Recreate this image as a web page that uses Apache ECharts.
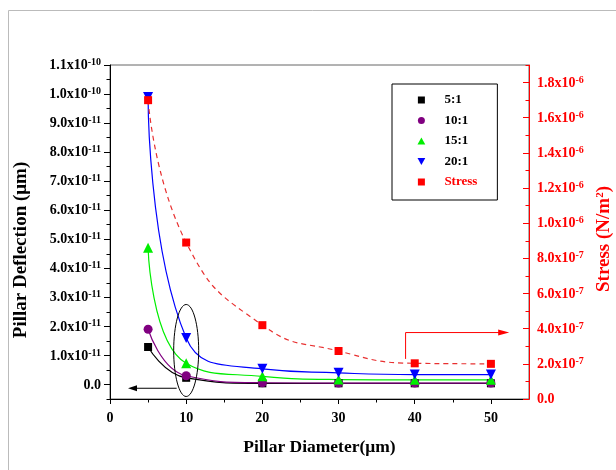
<!DOCTYPE html>
<html>
<head>
<meta charset="utf-8">
<script src="https://cdn.jsdelivr.net/npm/echarts@6/dist/echarts.min.js"></script>
<style>
  html, body { margin: 0; padding: 0; background: #fff; }
  #myChart { width: 616px; height: 470px; }
</style>
</head>
<body>
<div id="myChart"></div>
<script>
  // 数据
  const diameters = [5, 10, 20, 30, 40, 50];
  const defl5 = [1.29e-11, 0.23e-11, 0.04e-11, 0.04e-11, 0.04e-11, 0.04e-11];
  const defl10 = [1.90e-11, 0.30e-11, 0.06e-11, 0.05e-11, 0.05e-11, 0.05e-11];
  const defl15 = [4.71e-11, 0.73e-11, 0.28e-11, 0.17e-11, 0.16e-11, 0.16e-11];
  const defl20 = [9.9e-11, 1.60e-11, 0.54e-11, 0.40e-11, 0.34e-11, 0.34e-11];
  const stress = [1.70e-6, 0.89e-6, 0.42e-6, 0.273e-6, 0.203e-6, 0.20e-6];

  const xTicks = [0, 10, 20, 30, 40, 50];
  const xMinorTicks = [5, 15, 25, 35, 45];
  const leftTicks = [0, 1e-11, 2e-11, 3e-11, 4e-11, 5e-11, 6e-11, 7e-11, 8e-11, 9e-11, 1e-10, 1.1e-10];
  const leftMant = ['0.0', '1.0x10', '2.0x10', '3.0x10', '4.0x10', '5.0x10', '6.0x10', '7.0x10', '8.0x10', '9.0x10', '1.0x10', '1.1x10'];
  const leftExp = ['', '-11', '-11', '-11', '-11', '-11', '-11', '-11', '-11', '-11', '-10', '-10'];
  const leftMinor = [-0.5e-11, 0.5e-11, 1.5e-11, 2.5e-11, 3.5e-11, 4.5e-11, 5.5e-11, 6.5e-11, 7.5e-11, 8.5e-11, 9.5e-11, 10.5e-11];
  const rightTicks = [0, 2e-7, 4e-7, 6e-7, 8e-7, 1e-6, 1.2e-6, 1.4e-6, 1.6e-6, 1.8e-6];
  const rightMant = ['0.0', '2.0x10', '4.0x10', '6.0x10', '8.0x10', '1.0x10', '1.2x10', '1.4x10', '1.6x10', '1.8x10'];
  const rightExp = ['', '-7', '-7', '-7', '-7', '-6', '-6', '-6', '-6', '-6'];
  const rightMinor = [1e-7, 3e-7, 5e-7, 7e-7, 9e-7, 1.1e-6, 1.3e-6, 1.5e-6, 1.7e-6, 1.9e-6];

  const FONT = 'Liberation Serif';
  const RED = '#ff0000';

  function richStyle(color) {
    return {
      m: { fontFamily: FONT, fontWeight: 'bold', fontSize: 14, color: color, lineHeight: 15, verticalAlign: 'bottom' },
      s: { fontFamily: FONT, fontWeight: 'bold', fontSize: 10, color: color, lineHeight: 11, verticalAlign: 'top', padding: [0, 0, 8, 0] }
    };
  }
  function labelFor(ticks, mant, exp) {
    return function (value) {
      let idx = 0;
      for (let i = 0; i < ticks.length; i++) {
        if (Math.abs(ticks[i] - value) < Math.abs(ticks[idx] - value)) idx = i;
      }
      if (!exp[idx]) return '{m|' + mant[idx] + '}';
      return '{m|' + mant[idx] + '}{s|' + exp[idx] + '}';
    };
  }

  let myChart = echarts.init(document.getElementById('myChart'));
  myChart.setOption({
    animation: false,
    backgroundColor: '#fff',
    grid: {
      left: 110, right: 87, top: 65, bottom: 71,
      containLabel: false, outerBoundsMode: 'none',
      show: true, borderColor: '#666', borderWidth: 1
    },
    legend: {
      orient: 'vertical',
      left: 392, top: 84,
      padding: [9, 20, 11, 25.5],
      itemWidth: 36, itemHeight: 7, itemGap: 6.5,
      borderColor: '#000', borderWidth: 1, backgroundColor: '#fff',
      textStyle: { fontFamily: FONT, fontWeight: 'bold', fontSize: 13, color: '#000', lineHeight: 14 },
      data: [
        { name: '5:1', icon: 'path://M0,0H10V10H0Z' },
        { name: '10:1', icon: 'circle' },
        { name: '15:1', icon: 'path://M5,0L10,9L0,9Z' },
        { name: '20:1', icon: 'path://M0,0L10,0L5,9Z' },
        { name: 'Stress', icon: 'path://M0,0H10V10H0Z', textStyle: { color: RED } }
      ]
    },
    xAxis: [
      {
        type: 'value', min: 0, max: 55,
        name: 'Pillar Diameter(μm)', nameLocation: 'middle', nameGap: 39,
        nameTextStyle: { fontFamily: FONT, fontWeight: 'bold', fontSize: 17.5, color: '#000' },
        axisLine: { onZero: false, lineStyle: { color: '#000', width: 1 } },
        axisTick: { customValues: xTicks, length: 5, lineStyle: { color: '#000' } },
        axisLabel: { customValues: xTicks, margin: 12, fontFamily: FONT, fontWeight: 'bold', fontSize: 14, color: '#000' },
        splitLine: { show: false }
      },
      {
        type: 'value', min: 0, max: 55, position: 'bottom',
        axisLine: { show: false, onZero: false },
        axisTick: { customValues: xMinorTicks, length: 3.5, lineStyle: { color: '#000' } },
        axisLabel: { show: false }, splitLine: { show: false }
      }
    ],
    yAxis: [
      {
        type: 'value', min: -0.5e-11, max: 1.1e-10, position: 'left',
        name: 'Pillar Deflection (μm)', nameLocation: 'middle', nameGap: 79, nameRotate: 90,
        nameTextStyle: { fontFamily: FONT, fontWeight: 'bold', fontSize: 19, color: '#000', padding: [0, 36, 0, 0] },
        axisLine: { show: true, onZero: false, lineStyle: { color: '#000', width: 1 } },
        axisTick: { customValues: leftTicks, length: 6, lineStyle: { color: '#000' } },
        axisLabel: { customValues: leftTicks, margin: 9, formatter: labelFor(leftTicks, leftMant, leftExp), rich: richStyle('#000') },
        splitLine: { show: false }
      },
      {
        type: 'value', min: 0, max: 1.9e-6, position: 'right',
        name: '{t|Stress (N/m}{s|2}{t|)}', nameLocation: 'middle', nameGap: 63, nameRotate: 90,
        nameTextStyle: {
          padding: [0, 14, 0, 0],
          rich: {
            t: { fontFamily: FONT, fontWeight: 'bold', fontSize: 19, color: RED, lineHeight: 19, verticalAlign: 'bottom' },
            s: { fontFamily: FONT, fontWeight: 'bold', fontSize: 11, color: RED, lineHeight: 11, verticalAlign: 'top', padding: [0, 0, 8, 0] }
          }
        },
        axisLine: { show: true, onZero: false, lineStyle: { color: RED, width: 1 } },
        axisTick: { customValues: rightTicks, inside: true, length: 6, lineStyle: { color: RED } },
        axisLabel: { customValues: rightTicks, margin: 8, formatter: labelFor(rightTicks, rightMant, rightExp), rich: richStyle(RED) },
        splitLine: { show: false }
      },
      {
        type: 'value', min: -0.5e-11, max: 1.1e-10, position: 'left',
        axisLine: { show: false, onZero: false },
        axisTick: { show: true, customValues: leftMinor, length: 3.5, lineStyle: { color: '#000' } },
        axisLabel: { show: false }, splitLine: { show: false }
      },
      {
        type: 'value', min: 0, max: 1.9e-6, position: 'right',
        axisLine: { show: false, onZero: false },
        axisTick: { show: true, customValues: rightMinor, inside: true, length: 3.5, lineStyle: { color: RED } },
        axisLabel: { show: false }, splitLine: { show: false }
      }
    ],
    series: [
      {
        name: '5:1', type: 'line', yAxisIndex: 0, smooth: 0.5,
        data: diameters.map((d, i) => [d, defl5[i]]),
        symbol: 'rect', symbolSize: 8,
        itemStyle: { color: '#000' }, lineStyle: { color: '#000', width: 1.2 }
      },
      {
        name: '10:1', type: 'line', yAxisIndex: 0, smooth: 0.5,
        data: diameters.map((d, i) => [d, defl10[i]]),
        symbol: 'circle', symbolSize: 9,
        itemStyle: { color: '#800080' }, lineStyle: { color: '#800080', width: 1.2 }
      },
      {
        name: '15:1', type: 'line', yAxisIndex: 0, smooth: 0.5,
        data: diameters.map((d, i) => [d, defl15[i]]),
        symbol: 'triangle', symbolSize: 10,
        itemStyle: { color: '#00ee00' }, lineStyle: { color: '#00ee00', width: 1.2 }
      },
      {
        name: '20:1', type: 'line', yAxisIndex: 0, smooth: 0.5,
        data: diameters.map((d, i) => [d, defl20[i]]),
        symbol: 'triangle', symbolRotate: 180, symbolSize: 10,
        itemStyle: { color: '#0000ff' }, lineStyle: { color: '#0000ff', width: 1.2 }
      },
      {
        name: 'Stress', type: 'line', yAxisIndex: 1, smooth: 0.5,
        data: diameters.map((d, i) => [d, stress[i]]),
        symbol: 'rect', symbolSize: 8,
        itemStyle: { color: RED }, lineStyle: { color: '#e83030', width: 1.2, type: [5, 4] }
      }
    ]
  });

  // 注释: 椭圆和箭头
  function px(yIdx, p) {
    return myChart.convertToPixel({ xAxisIndex: 0, yAxisIndex: yIdx }, p);
  }
  const ell = px(0, [10, 1.17e-11]);
  const bA = px(0, [8.75, -0.13e-11]);
  const bB = px(0, [2.36, -0.13e-11]);
  const rA = px(1, [38.8, 0.228e-6]);
  const rB = px(1, [38.8, 0.378e-6]);
  const rC = px(1, [52.4, 0.378e-6]);

  myChart.setOption({
    graphic: [
      { type: 'polyline', shape: { points: [[8.5, 470], [8.5, 10.5], [616, 10.5]] }, style: { stroke: '#bbb', lineWidth: 1, fill: null } },
      { type: 'ellipse', shape: { cx: ell[0], cy: ell[1], rx: 12.5, ry: 46 }, style: { stroke: '#000', fill: null, lineWidth: 1 }, z: 100 },
      { type: 'line', shape: { x1: bA[0], y1: bA[1], x2: bB[0] + 8, y2: bB[1] }, style: { stroke: '#000', lineWidth: 1 }, z: 100 },
      { type: 'polygon', shape: { points: [[bB[0], bB[1]], [bB[0] + 9, bB[1] - 3], [bB[0] + 9, bB[1] + 3]] }, style: { fill: '#000' }, z: 100 },
      { type: 'polyline', shape: { points: [rA, rB, [rC[0] - 9, rC[1]]] }, style: { stroke: RED, lineWidth: 1, fill: null }, z: 100 },
      { type: 'polygon', shape: { points: [[rC[0], rC[1]], [rC[0] - 11, rC[1] - 3], [rC[0] - 11, rC[1] + 3]] }, style: { fill: RED }, z: 100 }
    ]
  });
</script>
</body>
</html>
